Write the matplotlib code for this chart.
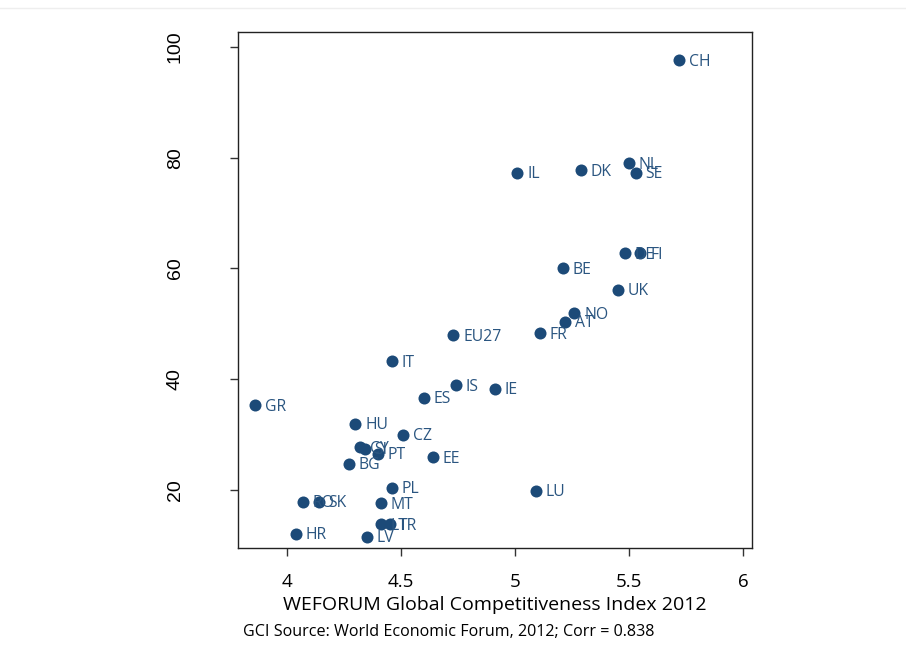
import matplotlib
matplotlib.use("Agg")
import matplotlib.pyplot as plt
from matplotlib.lines import Line2D

countries = ["CH", "NL", "SE", "DK", "IL", "DE", "FI", "BE", "UK", "NO", "AT", "FR",
             "EU27", "IT", "IS", "IE", "ES", "GR", "HU", "CZ", "CY", "SI", "PT", "BG",
             "EE", "PL", "LU", "RO", "SK", "MT", "LT", "TR", "HR", "LV"]
gci = [5.72, 5.50, 5.53, 5.29, 5.01, 5.48, 5.55, 5.21, 5.45, 5.26, 5.22, 5.11,
       4.73, 4.46, 4.74, 4.91, 4.60, 3.86, 4.30, 4.51, 4.32, 4.34, 4.40, 4.27,
       4.64, 4.46, 5.09, 4.07, 4.14, 4.41, 4.41, 4.45, 4.04, 4.35]
yvals = [97.6, 79.0, 77.3, 77.7, 77.3, 62.7, 62.7, 60.0, 56.1, 51.9, 50.4, 48.3,
         47.9, 43.2, 38.9, 38.2, 36.6, 35.3, 31.9, 29.9, 27.7, 27.4, 26.5, 24.7,
         25.9, 20.4, 19.8, 17.8, 17.8, 17.6, 13.8, 13.8, 12.1, 11.5]
xticks = [4, 4.5, 5, 5.5, 6]
xticklabels = ["4", "4.5", "5", "5.5", "6"]
yticks = [20, 40, 60, 80, 100]

fam = ["Open Sans", "DejaVu Sans"]

fig = plt.figure(figsize=(9.06, 6.64), dpi=100)
ax = fig.add_axes([238/906, 1-548/664, (752-238)/906, (548-32)/664])

dot = "#1c4a78"
ax.scatter(gci, yvals, s=75, color=dot, zorder=3, linewidths=0)
for c, x, y in zip(countries, gci, yvals):
    ax.annotate(c, (x, y), xytext=(7, -1), textcoords="offset points",
                ha="left", va="center", fontsize=11.3, color="#2a5580",
                family=fam)

ax.set_xlim(3.785, 6.039)
ax.set_ylim(9.5, 102.7)
ax.set_xticks(xticks)
ax.set_xticklabels(xticklabels, family=fam, fontsize=13.5)
ax.set_yticks(yticks)
ax.set_yticklabels([str(v) for v in yticks], rotation=90, va="center",
                   family=["Liberation Sans", "DejaVu Sans"], fontsize=14)
ax.tick_params(axis="both", direction="out", length=6, width=1, color="#333333")
ax.tick_params(axis="x", pad=12)
ax.tick_params(axis="y", pad=33)
for sp in ax.spines.values():
    sp.set_linewidth(1.0)
    sp.set_color("#222222")

ax.set_xlabel("WEFORUM Global Competitiveness Index 2012",
              family=fam, fontsize=14, labelpad=3.5)
fig.text(243/906, 1-632/664, "GCI Source: World Economic Forum, 2012; Corr = 0.838",
         family=fam, fontsize=11.6, ha="left", va="center")

fig.add_artist(Line2D([0, 1], [1-8/664, 1-8/664], color="#eeeeee", lw=1,
                      transform=fig.transFigure))

fig.savefig("out.png", dpi=100)
